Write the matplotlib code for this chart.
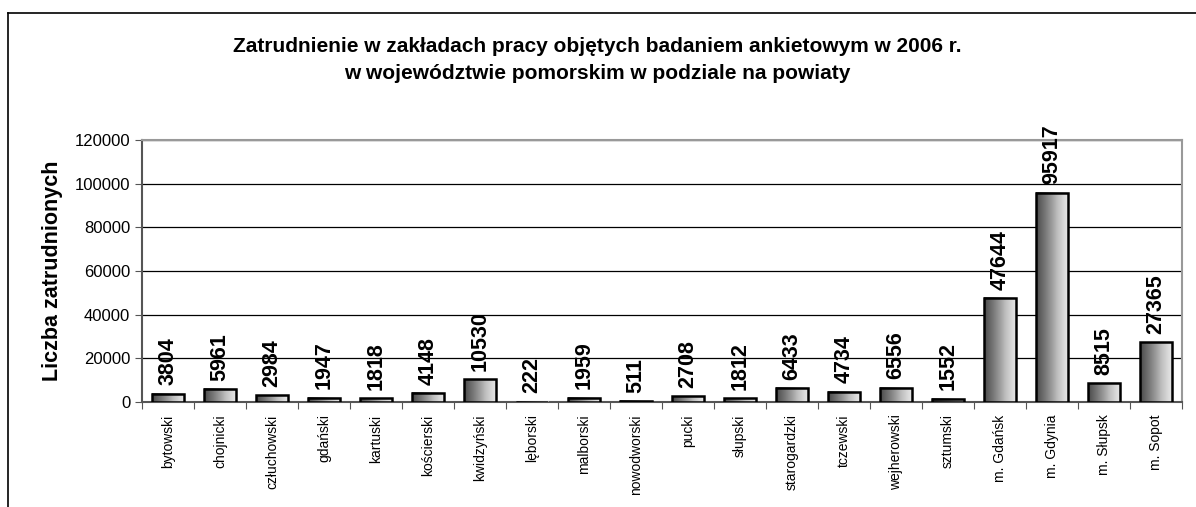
import matplotlib.pyplot as plt
import numpy as np
from matplotlib.patches import Rectangle

# dane
powiaty = ['bytowski', 'chojnicki', 'człuchowski', 'gdański', 'kartuski', 'kościerski',
           'kwidzyński', 'lęborski', 'malborski', 'nowodworski', 'pucki', 'słupski',
           'starogardzki', 'tczewski', 'wejherowski', 'sztumski', 'm. Gdańsk',
           'm. Gdynia', 'm. Słupsk', 'm. Sopot']
zatrudnieni = [3804, 5961, 2984, 1947, 1818, 4148, 10530, 222, 1959, 511, 2708, 1812,
               6433, 4734, 6556, 1552, 47644, 95917, 8515, 27365]
yticks = [0, 20000, 40000, 60000, 80000, 100000, 120000]

plt.rcParams['font.family'] = ['Liberation Sans', 'DejaVu Sans']

fig = plt.figure(figsize=(11.96, 5.07), dpi=100)
ax = fig.add_axes([142/1196, 1-402/507, 1040/1196, 262/507])

# ramka wykresu (lewa i gorna krawedz)
fig.add_artist(plt.Line2D([8/1196, 1], [1-13/507, 1-13/507], transform=fig.transFigure,
                          color='black', lw=1.2))
fig.add_artist(plt.Line2D([8/1196, 8/1196], [0, 1-13/507], transform=fig.transFigure,
                          color='black', lw=1.2))

x = np.arange(len(powiaty))
w = 0.62
grad = np.linspace(0, 1, 64).reshape(1, -1)

for i, v in enumerate(zatrudnieni):
    ax.imshow(grad, cmap='Greys_r', vmin=-0.35, vmax=1.25, aspect='auto',
              extent=(i-w/2, i+w/2, 0, v), zorder=3, interpolation='bicubic')
    ax.add_patch(Rectangle((i-w/2, 0), w, v, fill=False, edgecolor='black', lw=1.8, zorder=4))
    ax.annotate(str(v), (i, v), xytext=(0, 6), textcoords='offset points',
                rotation=90, ha='center', va='bottom',
                fontsize=15.5, fontweight='bold', zorder=5)

ax.set_xlim(-0.5, len(powiaty)-0.5)
ax.set_ylim(0, 120000)
ax.set_yticks(yticks)
ax.set_yticklabels([str(t) for t in yticks], fontsize=12)
ax.set_xticks(np.arange(len(powiaty)+1)-0.5)
ax.set_xticklabels([])
ax.set_xticks(x, minor=True)
ax.set_xticklabels(powiaty, minor=True, rotation=90, fontsize=10)
ax.tick_params(axis='x', which='minor', length=0, pad=9)
ax.tick_params(axis='x', which='major', length=5, color='#555555')
ax.tick_params(axis='y', length=5, color='#555555')
ax.grid(axis='y', color='black', lw=0.9, zorder=0)

for s in ['top', 'right']:
    ax.spines[s].set_color('#999999')
    ax.spines[s].set_linewidth(1.5)
for s in ['left', 'bottom']:
    ax.spines[s].set_color('#555555')
    ax.spines[s].set_linewidth(1.5)

ax.set_ylabel('Liczba zatrudnionych', fontsize=15.5, fontweight='bold', labelpad=8)

fig.text(597/1196, 1-47/507, 'Zatrudnienie w zakładach pracy objętych badaniem ankietowym w 2006 r.',
         ha='center', va='center', fontsize=15, fontweight='bold')
fig.text(597/1196, 1-73/507, 'w województwie pomorskim w podziale na powiaty',
         ha='center', va='center', fontsize=15, fontweight='bold')

fig.savefig('out.png', dpi=100)
